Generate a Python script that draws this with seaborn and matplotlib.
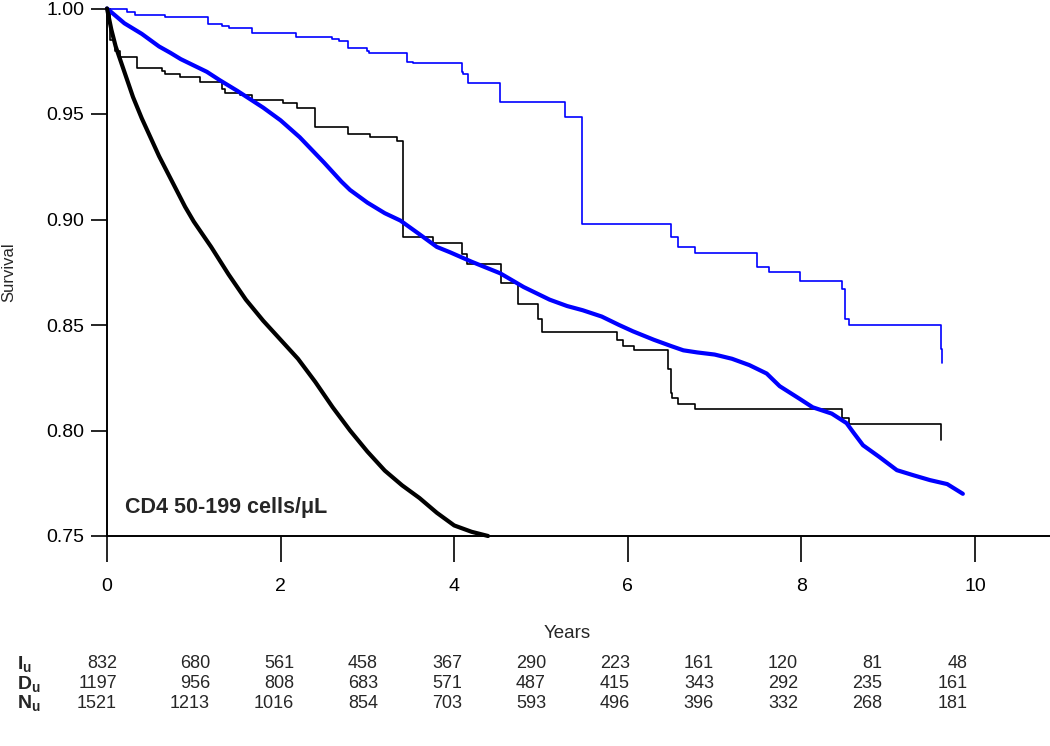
import numpy as np
import pandas as pd
import matplotlib
matplotlib.use("Agg")
import matplotlib.pyplot as plt
import seaborn as sns

# survival curves (years, survival)
blue_km_t = [0, 0.23, 0.32, 0.67, 1.16, 1.33, 1.40, 1.67, 2.18, 2.59, 2.67, 2.78, 3.00, 3.02,
             3.46, 3.53, 4.09, 4.10, 4.16, 4.53, 5.28, 5.47, 6.50, 6.58, 6.77, 7.49, 7.63,
             7.98, 8.47, 8.50, 8.55, 9.61, 9.62]
blue_km_s = [1.0, 0.9985, 0.9969, 0.9961, 0.9927, 0.9918, 0.9908, 0.9884, 0.9866, 0.9855,
             0.9846, 0.9813, 0.9799, 0.9789, 0.9746, 0.9742, 0.9699, 0.9690, 0.9647, 0.9557,
             0.9486, 0.8979, 0.8917, 0.8870, 0.8841, 0.8775, 0.8751, 0.8708, 0.8670, 0.8528,
             0.8500, 0.8386, 0.8320]

black_km_t = [0, 0.03, 0.09, 0.15, 0.35, 0.63, 0.67, 0.84, 1.07, 1.32, 1.36, 1.53, 1.67, 2.03,
              2.19, 2.40, 2.78, 3.03, 3.34, 3.41, 3.76, 4.09, 4.15, 4.54, 4.74, 4.96, 5.01,
              5.88, 5.95, 6.07, 6.46, 6.50, 6.51, 6.58, 6.77, 8.47, 8.55, 9.61]
black_km_s = [1.0, 0.985, 0.980, 0.977, 0.972, 0.9705, 0.969, 0.9675, 0.965, 0.962, 0.960,
              0.959, 0.9565, 0.955, 0.953, 0.944, 0.9405, 0.939, 0.937, 0.8915, 0.889, 0.8837,
              0.879, 0.870, 0.860, 0.853, 0.8465, 0.8427, 0.840, 0.838, 0.829, 0.818, 0.8155,
              0.8125, 0.810, 0.806, 0.803, 0.7955]

blue_model_t = [0, 0.1, 0.2, 0.3, 0.4, 0.5, 0.6, 0.73, 0.85, 1.0, 1.15, 1.3, 1.5, 1.65, 1.8,
                2.0, 2.22, 2.5, 2.7, 2.8, 3.0, 3.2, 3.38, 3.6, 3.8, 3.95, 4.2, 4.53, 4.8, 5.1,
                5.3, 5.48, 5.7, 5.9, 6.06, 6.3, 6.5, 6.64, 6.8, 7.0, 7.2, 7.4, 7.6, 7.75, 7.98,
                8.13, 8.35, 8.52, 8.6, 8.71, 8.9, 9.1, 9.29, 9.48, 9.68, 9.86]
blue_model_s = [1.0, 0.9965, 0.993, 0.9905, 0.988, 0.985, 0.982, 0.979, 0.976, 0.973, 0.970,
                0.966, 0.961, 0.957, 0.953, 0.947, 0.939, 0.927, 0.918, 0.914, 0.908, 0.903,
                0.8995, 0.893, 0.887, 0.8845, 0.880, 0.8745, 0.868, 0.862, 0.859, 0.857, 0.854,
                0.850, 0.847, 0.843, 0.840, 0.838, 0.837, 0.836, 0.834, 0.831, 0.827, 0.821,
                0.815, 0.811, 0.808, 0.8035, 0.799, 0.793, 0.7874, 0.7812, 0.7788, 0.7765,
                0.7746, 0.770]

black_model_t = [0, 0.05, 0.1, 0.2, 0.3, 0.4, 0.5, 0.6, 0.7, 0.8, 0.9, 1.0, 1.2, 1.4, 1.6,
                 1.8, 2.0, 2.2, 2.4, 2.6, 2.8, 3.0, 3.2, 3.4, 3.6, 3.8, 4.0, 4.2, 4.39]
black_model_s = [1.0, 0.990, 0.982, 0.970, 0.958, 0.948, 0.939, 0.930, 0.922, 0.914, 0.906,
                 0.899, 0.887, 0.874, 0.862, 0.852, 0.843, 0.834, 0.823, 0.811, 0.800, 0.790,
                 0.781, 0.774, 0.768, 0.761, 0.755, 0.752, 0.750]

# numbers at risk table
row_labels = [r"$\mathbf{I_u}$", r"$\mathbf{D_u}$", r"$\mathbf{N_u}$"]
I_u = [832, 680, 561, 458, 367, 290, 223, 161, 120, 81, 48]
D_u = [1197, 956, 808, 683, 571, 487, 415, 343, 292, 235, 161]
N_u = [1521, 1213, 1016, 854, 703, 593, 496, 396, 332, 268, 181]

sns.set_style("ticks")
plt.rcParams["font.family"] = ["Liberation Sans", "DejaVu Sans"]
plt.rcParams["mathtext.fontset"] = "custom"
plt.rcParams["mathtext.rm"] = "Liberation Sans"
plt.rcParams["mathtext.bf"] = "Liberation Sans:bold"

W, H = 1050, 746
fig = plt.figure(figsize=(W / 100, H / 100), dpi=100)
ax = fig.add_axes([107 / W, 1 - 536 / H, (W - 107) / W, (536 - 8.5) / H])


def df(t, s):
    return pd.DataFrame({"Years": t, "Survival": s})


sns.lineplot(data=df(blue_km_t, blue_km_s), x="Years", y="Survival", ax=ax, color="#0000ff",
             lw=1.2, drawstyle="steps-post", estimator=None, clip_on=False)
sns.lineplot(data=df(black_km_t, black_km_s), x="Years", y="Survival", ax=ax, color="black",
             lw=1.2, drawstyle="steps-post", estimator=None, clip_on=False)
sns.lineplot(data=df(blue_model_t, blue_model_s), x="Years", y="Survival", ax=ax,
             color="#0000ff", lw=3.0, estimator=None, clip_on=False)
sns.lineplot(data=df(black_model_t, black_model_s), x="Years", y="Survival", ax=ax,
             color="black", lw=3.0, estimator=None, clip_on=False)

ax.set_xlim(0, (W - 107) / 86.8)
ax.set_ylim(0.75, 1.0)
ax.set_xticks([0, 2, 4, 6, 8, 10])
ax.set_yticks([0.75, 0.80, 0.85, 0.90, 0.95, 1.00])
ax.set_yticklabels(["0.75", "0.80", "0.85", "0.90", "0.95", "1.00"])
ax.set_xlabel("")
ax.set_ylabel("")
sns.despine(ax=ax)
for sp in ["left", "bottom"]:
    ax.spines[sp].set_linewidth(1.4)
    ax.spines[sp].set_color("black")
ax.tick_params(axis="x", length=19, width=1.2, pad=11, labelsize=14, colors="black")
ax.tick_params(axis="y", length=11.5, width=1.2, pad=5, labelsize=14, colors="black")

fig.text(125 / W, 1 - 507 / H, "CD4 50-199 cells/\u03bcL", fontsize=15.5, fontweight="bold",
         ha="left", va="center")
fig.text(9 / W, 1 - 272 / H, "Survival", rotation=90, fontsize=12, ha="center", va="center")
fig.text(567 / W, 1 - 634 / H, "Years", fontsize=13.5, ha="center", va="center")

# risk table, right-aligned columns
col_right = [117, 210, 294, 378, 462, 546, 630, 714, 798, 882, 968]
row_y = [664, 684, 703]
for lab, vals, y in zip(row_labels, [I_u, D_u, N_u], row_y):
    fig.text(17 / W, 1 - y / H, lab, fontsize=14, ha="left", va="center")
    for xr, v in zip(col_right, vals):
        fig.text(xr / W, 1 - y / H, str(v), fontsize=13, ha="right", va="center")

fig.savefig("out.png", dpi=100)
